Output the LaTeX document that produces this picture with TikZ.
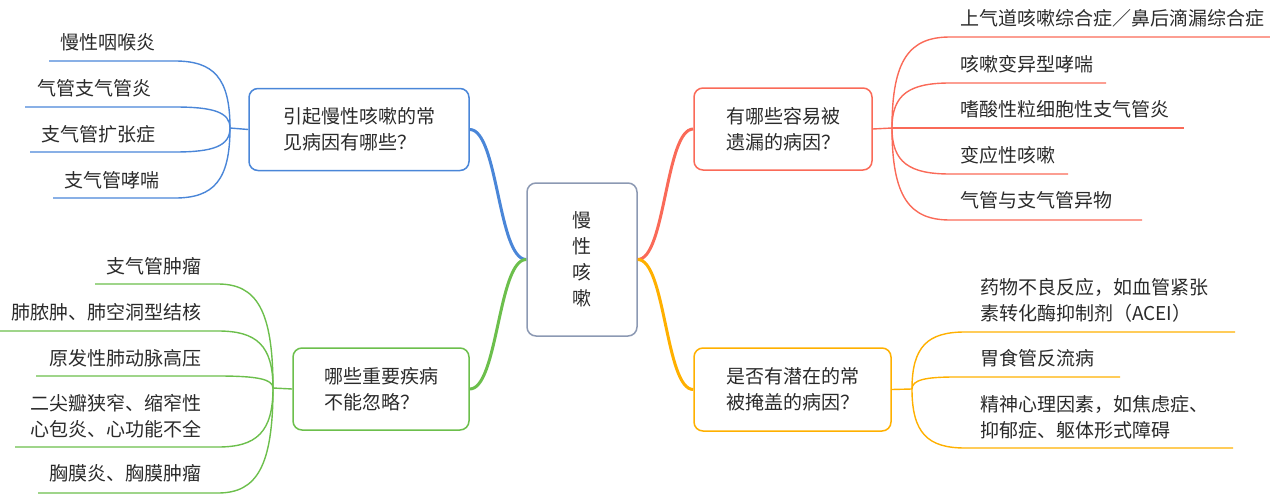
\documentclass[tikz,border=0pt]{standalone}
\usepackage{fontspec}
\setmainfont{Noto Sans CJK SC}
\usetikzlibrary{calc}
\definecolor{cblue}{HTML}{4A86D8}
\definecolor{cred}{HTML}{FA6A58}
\definecolor{cgreen}{HTML}{6CBF4C}
\definecolor{corange}{HTML}{FFB000}
\definecolor{cgray}{HTML}{8C99B3}
\definecolor{txt}{HTML}{2A2A2A}
\begin{document}
\begin{tikzpicture}[x=1pt,y=-1pt,
  every node/.style={font=\fontsize{19}{26}\selectfont, text=txt, inner sep=0pt},
  box/.style={draw, rounded corners=9pt, line width=1.5pt, align=left},
  trunk/.style={line width=3pt, to path={.. controls ($(\tikztostart)!0.5!(\tikztostart-|\tikztotarget)$) and ($(\tikztotarget)!0.5!(\tikztotarget-|\tikztostart)$) .. (\tikztotarget)}},
  twig/.style={line width=1.4pt, to path={.. controls ($(\tikztostart)!0.75!(\tikztostart|-\tikztotarget)$) and ($(\tikztotarget)!0.7!(\tikztostart|-\tikztotarget)$) .. (\tikztotarget)}},
  straight/.style={line width=1.4pt}
]
\useasboundingbox (0,0) rectangle (1270,498);

% centre
\node[box, draw=cgray, align=center, minimum width=110, minimum height=153] (C) at (582,259.5) {慢\\性\\咳\\嗽};

% main boxes
\node[box, draw=cblue, minimum width=220, minimum height=82] (B) at (359,129.5) {引起慢性咳嗽的常\\见病因有哪些？};
\node[box, draw=cred, minimum width=178, minimum height=82] (R) at (783,129) {有哪些容易被\\遗漏的病因？};
\node[box, draw=corange, minimum width=197, minimum height=83] (O) at (792.5,389.5) {是否有潜在的常\\被掩盖的病因？};
\node[box, draw=cgreen, minimum width=176, minimum height=82] (G) at (381,389) {哪些重要疾病\\不能忽略？};

% trunks
\draw[cblue, trunk] (C.west) to (B.east);
\draw[cgreen, trunk] (C.west) to (G.east);
\draw[cred, trunk] (C.east) to (R.west);
\draw[corange, trunk] (C.east) to (O.west);

% junctions
\coordinate (BA) at (230,128);
\coordinate (GA) at (273,388);
\coordinate (RA) at (892,128);
\coordinate (OA) at (912,389);
\draw[cblue, straight] (B.west) -- (BA);
\draw[cgreen, straight] (G.west) -- (GA);
\draw[cred, straight] (R.east) -- (RA);
\draw[corange, straight] (O.east) -- (OA);

% blue leaves
\node[anchor=west] (b1) at (60,42) {慢性咽喉炎};
\node[anchor=west] (b2) at (37,88) {气管支气管炎};
\node[anchor=west] (b3) at (41,134) {支气管扩张症};
\node[anchor=west] (b4) at (64,180) {支气管哮喘};
\coordinate (b1s) at (49,61);  \coordinate (b1e) at (175,61);
\coordinate (b2s) at (25,107); \coordinate (b2e) at (175,107);
\coordinate (b3s) at (30,152); \coordinate (b3e) at (175,152);
\coordinate (b4s) at (53,198); \coordinate (b4e) at (175,198);
\draw[cblue, twig] (BA) to (b1e) -- (b1s);
\draw[cblue, twig] (BA) to (b2e) -- (b2s);
\draw[cblue, twig] (BA) to (b3e) -- (b3s);
\draw[cblue, twig] (BA) to (b4e) -- (b4s);

% green leaves
\node[anchor=east] (g1) at (202,266) {支气管肿瘤};
\node[anchor=east] (g2) at (202,312) {肺脓肿、肺空洞型结核};
\node[anchor=east] (g3) at (202,358) {原发性肺动脉高压};
\node[anchor=east, align=left] (g4) at (202,416.5) {二尖瓣狭窄、缩窄性\\心包炎、心功能不全};
\node[anchor=east] (g5) at (202,473) {胸膜炎、胸膜肿瘤};
\coordinate (g1s) at (95,284);  \coordinate (g1e) at (218,284);
\coordinate (g2s) at (0,331);   \coordinate (g2e) at (218,331);
\coordinate (g3s) at (36,376);  \coordinate (g3e) at (218,376);
\coordinate (g4s) at (15,447);  \coordinate (g4e) at (218,447);
\coordinate (g5s) at (38,493);  \coordinate (g5e) at (218,493);
\draw[cgreen, twig] (GA) to (g1e) -- (g1s);
\draw[cgreen, twig] (GA) to (g2e) -- (g2s);
\draw[cgreen, twig] (GA) to (g3e) -- (g3s);
\draw[cgreen, twig] (GA) to (g4e) -- (g4s);
\draw[cgreen, twig] (GA) to (g5e) -- (g5s);

% red leaves
\node[anchor=west] (r1) at (960,18) {上气道咳嗽综合症／鼻后滴漏综合症};
\node[anchor=west] (r2) at (960,64) {咳嗽变异型哮喘};
\node[anchor=west] (r3) at (960,109) {嗜酸性粒细胞性支气管炎};
\node[anchor=west] (r4) at (960,155) {变应性咳嗽};
\node[anchor=west] (r5) at (960,200) {气管与支气管异物};
\coordinate (r1s) at (950,37);  \coordinate (r1e) at (1270,37);
\coordinate (r2s) at (950,83);  \coordinate (r2e) at (1106,83);
\coordinate (r3e) at (1184,128);
\coordinate (r4s) at (950,174); \coordinate (r4e) at (1068,174);
\coordinate (r5s) at (950,220); \coordinate (r5e) at (1142,220);
\draw[cred, twig] (RA) to (r1s) -- (r1e);
\draw[cred, twig] (RA) to (r2s) -- (r2e);
\draw[cred, straight] (RA) -- (r3e);
\draw[cred, twig] (RA) to (r4s) -- (r4e);
\draw[cred, twig] (RA) to (r5s) -- (r5e);

% orange leaves
\node[anchor=west, align=left] (o1) at (980,300) {药物不良反应，如血管紧张\\素转化酶抑制剂（ACEI）};
\node[anchor=west] (o2) at (980,358) {胃食管反流病};
\node[anchor=west, align=left] (o3) at (980,417) {精神心理因素，如焦虑症、\\抑郁症、躯体形式障碍};
\coordinate (o1s) at (965,332); \coordinate (o1e) at (1235,332);
\coordinate (o2s) at (955,377); \coordinate (o2e) at (1120,377);
\coordinate (o3s) at (965,448); \coordinate (o3e) at (1233,448);
\draw[corange, twig] (OA) to (o1s) -- (o1e);
\draw[corange, twig] (OA) to (o2s) -- (o2e);
\draw[corange, twig] (OA) to (o3s) -- (o3e);
\end{tikzpicture}
\end{document}
